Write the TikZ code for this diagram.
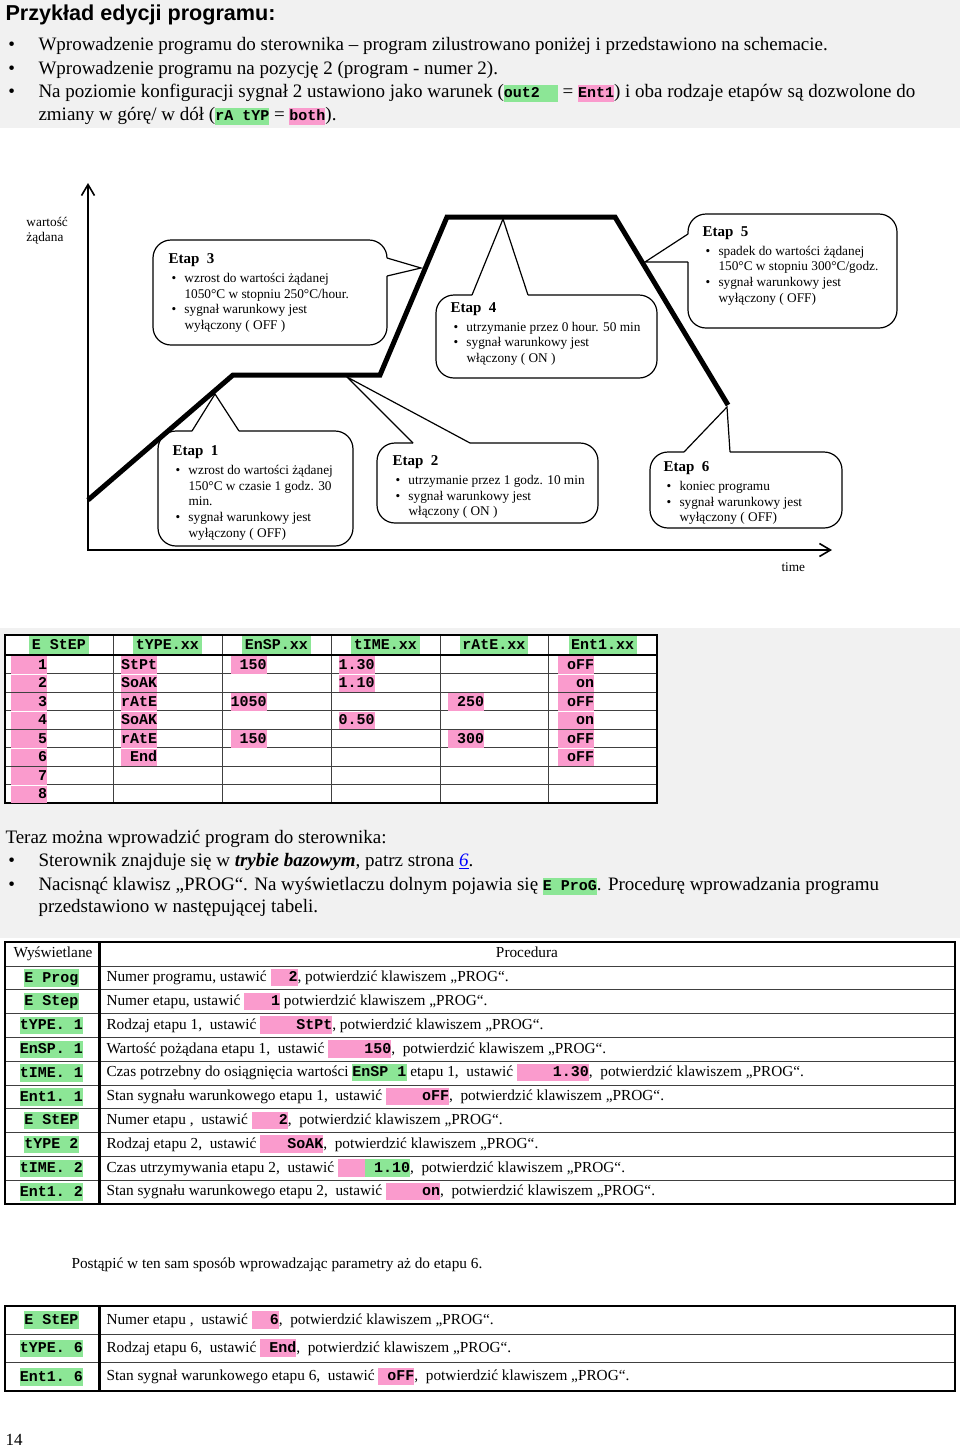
\documentclass[tikz,border=0pt]{standalone}
\usepackage{fontspec}
\setmainfont{Liberation Serif}
\setsansfont{Liberation Sans}
\setmonofont{Liberation Mono}
\usetikzlibrary{arrows.meta}
\definecolor{pagegrey}{RGB}{241,241,241}
\definecolor{hlgreen}{RGB}{140,230,150}
\definecolor{hlpink}{RGB}{250,155,205}
\newcommand{\hlbox}[2]{{\setlength{\fboxsep}{0pt}\colorbox{#1}{\rule[-4.5pt]{0pt}{17.5pt}\fontsize{15}{17}\selectfont\ttfamily\bfseries #2}}}
\newcommand{\hlg}[1]{\hlbox{hlgreen}{#1}}
\newcommand{\hlp}[1]{\hlbox{hlpink}{#1}}
\newcommand{\bul}{\makebox[16pt][l]{\hspace{3pt}\textbullet}}
\newcommand{\ind}{\hspace*{16pt}}
\newcommand{\etap}[1]{{\fontsize{15}{16}\selectfont\bfseries Etap~~#1}}
\newcommand{\prog}{potwierdzić klawiszem „PROG“.}

\begin{document}
\begin{tikzpicture}[x=1pt, y=-1pt, line width=1pt,
  body/.style={anchor=west, inner sep=0pt, font=\fontsize{19}{23}\selectfont, text height=13.3pt, text depth=3.8pt},
  note/.style={anchor=west, inner sep=0pt, font=\fontsize{15.3}{18}\selectfont, text height=10.7pt, text depth=3pt},
  bubtxt/.style={anchor=north west, inner sep=0pt, align=left, font=\fontsize{13.3}{15.8}\selectfont},
  bubble/.style={line width=1.2pt, rounded corners=18pt},
  ptr/.style={line width=1.2pt, line join=miter},
  axis/.style={line width=1.6pt, {Straight Barb[length=11pt, width=13pt]}-{Straight Barb[length=11pt, width=13pt]}},
  profile/.style={line width=5pt, line join=miter},
  cell/.style={anchor=west, inner sep=0pt},
  frame/.style={line width=2.5pt},
  grid/.style={line width=0.9pt, black!75}]

  \useasboundingbox (0,0) rectangle (960,1449);

  % ---------- grey bands ----------
  \fill[pagegrey] (0,0) rectangle (960,128);
  \fill[pagegrey] (0,628) rectangle (960,938);

  % ---------- header ----------
  \node[anchor=west, inner sep=0pt, font=\sffamily\bfseries\fontsize{21.6}{26}\selectfont,
        text height=15.5pt, text depth=4pt] (title) at (5,15) {Przykład edycji programu:};
  \foreach \y [count=\i] in {46,70,93} \node[body] (hb\i) at (8,\y) {\textbullet};
  \node[body] (h1) at (38,46) {Wprowadzenie programu do sterownika – program zilustrowano poniżej i przedstawiono na schemacie.};
  \node[body] (h2) at (38,70) {Wprowadzenie programu na pozycję 2 (program - numer 2).};
  \node[body] (h3) at (38,93) {Na poziomie konfiguracji sygnał 2 ustawiono jako warunek (\hlg{out2~~} = \hlp{Ent1}) i oba rodzaje etapów są dozwolone do};
  \node[body] (h4) at (38,116) {zmiany w górę/ w dół (\hlg{rA~tYP} = \hlp{both}).};

  % ---------- axes ----------
  \coordinate (O) at (88,550);
  \coordinate (ytop) at (88,183);
  \coordinate (xend) at (832,550);
  \draw[axis] (ytop) -- (O) -- (xend);
  \node[anchor=west, inner sep=0pt, align=left, font=\fontsize{13.3}{15}\selectfont] (ylab) at (26,231) {wartość\\żądana};
  \node[anchor=west, inner sep=0pt, font=\fontsize{13.3}{15}\selectfont] (xlab) at (781,567) {time};

  % ---------- set point profile ----------
  \coordinate (p0) at (88,500);
  \coordinate (p1) at (233,375);
  \coordinate (p2) at (380,375);
  \coordinate (p3) at (447,217);
  \coordinate (p4) at (615,217);
  \coordinate (p5) at (728,405);
  \draw[profile] (p0) -- (p1) -- (p2) -- (p3) -- (p4) -- (p5);

  % ===== Etap 1 =====
  \draw[bubble] (239,431) -- (353,431) -- (353,546) -- (158,546) -- (158,431) -- (192,431);
  \draw[ptr] (192,431) -- (215,394) -- (239,431);
  \node[bubtxt] (e1) at (172,445) {\etap{1}\\[3pt]
    \bul wzrost do wartości żądanej\\ \ind 150°C w czasie 1 godz. 30\\ \ind min.\\
    \bul sygnał warunkowy jest\\ \ind wyłączony ( OFF)};

  % ===== Etap 2 =====
  \draw[bubble] (470,443) -- (598,443) -- (598,523) -- (377,523) -- (377,443) -- (413,443);
  \draw[ptr] (413,443) -- (347,377) -- (470,443);
  \node[bubtxt] (e2) at (392,455) {\etap{2}\\[3pt]
    \bul utrzymanie przez 1 godz. 10 min\\
    \bul sygnał warunkowy jest\\ \ind włączony ( ON )};

  % ===== Etap 3 =====
  \draw[bubble] (387,276) -- (387,345) -- (153,345) -- (153,240) -- (387,240) -- (387,258);
  \draw[ptr] (387,258) -- (421,268) -- (387,276);
  \node[bubtxt] (e3) at (168,253) {\etap{3}\\[3pt]
    \bul wzrost do wartości żądanej\\ \ind 1050°C w stopniu 250°C/hour.\\
    \bul sygnał warunkowy jest\\ \ind wyłączony ( OFF )};

  % ===== Etap 4 =====
  \draw[bubble] (528,295) -- (657,295) -- (657,378) -- (436,378) -- (436,295) -- (472,295);
  \draw[ptr] (472,295) -- (503,219) -- (528,295);
  \node[bubtxt] (e4) at (450,302) {\etap{4}\\[3pt]
    \bul utrzymanie przez 0 hour. 50 min\\
    \bul sygnał warunkowy jest\\ \ind włączony ( ON )};

  % ===== Etap 5 =====
  \draw[bubble] (688,262) -- (688,328) -- (897,328) -- (897,214) -- (688,214) -- (688,234);
  \draw[ptr] (688,234) -- (645,262) -- (688,262);
  \node[bubtxt] (e5) at (702,226) {\etap{5}\\[3pt]
    \bul spadek do wartości żądanej\\ \ind 150°C w stopniu 300°C/godz.\\
    \bul sygnał warunkowy jest\\ \ind wyłączony ( OFF)};

  % ===== Etap 6 =====
  \draw[bubble] (730,452) -- (842,452) -- (842,528) -- (650,528) -- (650,452) -- (684,452);
  \draw[ptr] (684,452) -- (727,407) -- (730,452);
  \node[bubtxt] (e6) at (663,461) {\etap{6}\\[3pt]
    \bul koniec programu\\
    \bul sygnał warunkowy jest\\ \ind wyłączony ( OFF)};

  % ---------- program table ----------
  \fill[white] (5,635) rectangle (657,803);
  \foreach \x in {113,222,331,440,548} \draw[grid] (\x,635) -- (\x,803);
  \foreach \r in {1,...,7} \draw[grid] (5,655+18.5*\r) -- (657,655+18.5*\r);
  \draw[line width=1.6pt] (5,655) -- (657,655);
  \draw[frame] (5,635) rectangle (657,803);
  \foreach \x/\t [count=\i] in {59/E~StEP,167.5/tYPE.xx,276.5/EnSP.xx,385.5/tIME.xx,494/rAtE.xx,602.5/Ent1.xx}
    \node[inner sep=0pt] (c\i) at (\x,645) {\hlg{\,\t\,}};
  \foreach \r in {1,...,8}
    \node[cell] (s\r) at (10.6,646.25+18.5*\r) {\hlp{~~~\r}};
  \foreach \r/\t in {1/StPt,2/SoAK,3/rAtE,4/SoAK,5/rAtE,6/~End}
    \node[cell] (ty\r) at (120.5,646.25+18.5*\r) {\hlp{\t}};
  \foreach \r/\t in {1/~150,3/1050,5/~150}
    \node[cell] (sp\r) at (230,646.25+18.5*\r) {\hlp{\t}};
  \foreach \r/\t in {1/1.30,2/1.10,4/0.50}
    \node[cell] (ti\r) at (338,646.25+18.5*\r) {\hlp{\t}};
  \foreach \r/\t in {3/~250,5/~300}
    \node[cell] (ra\r) at (447.5,646.25+18.5*\r) {\hlp{\t}};
  \foreach \r/\t in {1/~oFF,2/~~on,3/~oFF,4/~~on,5/~oFF,6/~oFF}
    \node[cell] (en\r) at (557.5,646.25+18.5*\r) {\hlp{\t}};

  % ---------- text ----------
  \node[body] (t0) at (5,839) {Teraz można wprowadzić program do sterownika:};
  \node[body] (tb1) at (8,862) {\textbullet};
  \node[body] (t1) at (38,862) {Sterownik znajduje się w \textbf{\textit{trybie bazowym}}, patrz strona \textcolor{blue}{\underline{\textit{6}}}.};
  \node[body] (tb2) at (8,886) {\textbullet};
  \node[body] (t2) at (38,886) {Nacisnąć klawisz „PROG“. Na wyświetlaczu dolnym pojawia się \hlg{E~ProG}. Procedurę wprowadzania programu};
  \node[body] (t3) at (38,908) {przedstawiono w następującej tabeli.};

  % ---------- procedure table ----------
  \foreach \r in {0,...,9} \draw[grid] (5,966+23.8*\r) -- (955,966+23.8*\r);
  \draw[line width=3pt] (99,942) -- (99,1204);
  \draw[frame] (5,942) rectangle (955,1204);
  \node[note] (dh) at (13,954) {Wyświetlane};
  \node[note, anchor=center] (ph) at (527,954) {Procedura};
  \foreach \t [count=\r] in {E~Prog,E~Step,tYPE.~1,EnSP.~1,tIME.~1,Ent1.~1,E~StEP,tYPE~2,tIME.~2,Ent1.~2}
    \node[inner sep=0pt] (d\r) at (51.5,954.1+23.8*\r) {\hlg{\t}};
  \node[note] (q1) at (106,977.9) {Numer programu, ustawić \hlp{~~2}, \prog};
  \node[note] (q2) at (106,1001.7) {Numer etapu, ustawić \hlp{~~~1} \prog};
  \node[note] (q3) at (106,1025.5) {Rodzaj etapu 1,\ \ ustawić \hlp{~~~~StPt}, \prog};
  \node[note] (q4) at (106,1049.3) {Wartość pożądana etapu 1,\ \ ustawić \hlp{~~~~150},\ \ \prog};
  \node[note] (q5) at (106,1073.1) {Czas potrzebny do osiągnięcia wartości \hlg{EnSP~1} etapu 1,\ \ ustawić \hlp{~~~~1.30},\ \ \prog};
  \node[note] (q6) at (106,1096.9) {Stan sygnału warunkowego etapu 1,\ \ ustawić \hlp{~~~~oFF},\ \ \prog};
  \node[note] (q7) at (106,1120.7) {Numer etapu ,\ \ ustawić \hlp{~~~2},\ \ \prog};
  \node[note] (q8) at (106,1144.5) {Rodzaj etapu 2,\ \ ustawić \hlp{~~~SoAK},\ \ \prog};
  \node[note] (q9) at (106,1168.3) {Czas utrzymywania etapu 2,\ \ ustawić \hlp{~~~}\hlg{~1.10},\ \ \prog};
  \node[note] (q10) at (106,1192.1) {Stan sygnału warunkowego etapu 2,\ \ ustawić \hlp{~~~~on},\ \ \prog};

  \node[note] (rest) at (71,1265) {Postąpić w ten sam sposób wprowadzając parametry aż do etapu 6.};

  % ---------- last steps table ----------
  \foreach \r in {1,2} \draw[grid] (5,1306+28.33*\r) -- (955,1306+28.33*\r);
  \draw[line width=3pt] (99,1306) -- (99,1391);
  \draw[frame] (5,1306) rectangle (955,1391);
  \foreach \t [count=\r] in {E~StEP,tYPE.~6,Ent1.~6}
    \node[inner sep=0pt] (f\r) at (51.5,1291.8+28.33*\r) {\hlg{\t}};
  \node[note] (g1) at (106,1320.2) {Numer etapu ,\ \ ustawić \hlp{~~6},\ \ \prog};
  \node[note] (g2) at (106,1348.5) {Rodzaj etapu 6,\ \ ustawić \hlp{~End},\ \ \prog};
  \node[note] (g3) at (106,1376.8) {Stan sygnał warunkowego etapu 6,\ \ ustawić \hlp{~oFF},\ \ \prog};

  \node[anchor=west, inner sep=0pt, font=\fontsize{17}{20}\selectfont] (pg) at (5,1440) {14};
\end{tikzpicture}
\end{document}
